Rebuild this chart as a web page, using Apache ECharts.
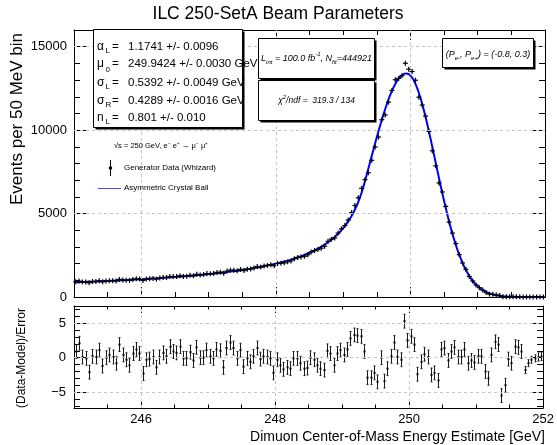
<!DOCTYPE html>
<html>
<head>
<meta charset="utf-8">
<script src="https://cdn.jsdelivr.net/npm/echarts@6/dist/echarts.min.js"></script>
<style>
  html, body { margin: 0; padding: 0; background: #fff; }
  #chart { width: 557px; height: 445px; }
</style>
</head>
<body>
<div id="chart"></div>
<script>
// binning of the histogram: 50 MeV bins from 245 to 252 GeV
const binLo = 245;
const binWidth = 0.05;

// fitted asymmetric crystal ball, read at each bin centre
const fitValues = [
  882, 890, 898, 905, 913, 921, 930, 939, 948, 956,
  965, 975, 985, 995, 1005, 1015, 1026, 1037, 1048, 1059,
  1070, 1083, 1095, 1108, 1120, 1133, 1147, 1161, 1176, 1190,
  1204, 1220, 1237, 1253, 1270, 1286, 1305, 1324, 1343, 1363,
  1382, 1405, 1427, 1450, 1474, 1497, 1524, 1550, 1578, 1606,
  1634, 1667, 1700, 1734, 1769, 1804, 1846, 1888, 1931, 1975,
  2020, 2070, 2123, 2180, 2240, 2304, 2372, 2444, 2522, 2606,
  2696, 2794, 2900, 3015, 3141, 3280, 3433, 3603, 3794, 4008,
  4255, 4533, 4859, 5244, 5703, 6265, 6957, 7702, 8457, 9203,
  9931, 10624, 11269, 11850, 12354, 12769, 13087, 13296, 13393, 13361,
  13154, 12774, 12240, 11567, 10786, 9920, 9001, 8057, 7115, 6199,
  5327, 4516, 3776, 3116, 2535, 2035, 1613, 1260, 971, 739,
  554, 410, 299, 216, 153, 107, 74, 51, 34, 22,
  15, 9, 6, 4, 2, 1, 1, 1, 0, 0
];

// generator data (events per bin)
const dataCounts = [
  909, 953, 901, 902, 850, 927, 933, 973, 911, 956,
  977, 978, 960, 1055, 1018, 1005, 991, 1056, 1087, 1079,
  995, 1073, 1088, 1111, 1073, 1136, 1171, 1168, 1231, 1221,
  1228, 1276, 1233, 1249, 1298, 1272, 1359, 1324, 1343, 1404,
  1389, 1401, 1472, 1488, 1420, 1551, 1610, 1605, 1574, 1650,
  1581, 1663, 1675, 1742, 1828, 1796, 1855, 1892, 1927, 1877,
  2007, 2020, 2045, 2115, 2164, 2299, 2367, 2404, 2442, 2530,
  2696, 2778, 2841, 2927, 3040, 3337, 3468, 3537, 3831, 4078,
  4281, 4614, 5054, 5483, 5945, 6510, 7032, 7447, 8190, 8992,
  9582, 10624, 10908, 11676, 12376, 13018, 13098, 13261, 14006, 13650,
  13510, 12989, 11975, 11503, 10838, 9930, 8764, 7859, 6836, 6293,
  5429, 4489, 3831, 3200, 2540, 2040, 1661, 1232, 959, 720,
  559, 414, 264, 172, 158, 131, 90, 12, 11, 21,
  12, 14, 10, 6, 0, 0, 1, 1, 0, 0
];

// (Data-Model)/Error per bin
const pulls = [
  0.9, 2.1, 0.1, -0.1, -2.1, 0.2, 0.1, 1.1, -1.2, 0.0,
  0.4, 0.1, -0.8, 1.9, 0.4, -0.3, -1.1, 0.6, 1.2, 0.6,
  -2.3, -0.3, -0.2, 0.1, -1.4, 0.1, 0.7, 0.2, 1.6, 0.9,
  0.7, 1.6, -0.1, -0.1, 0.8, -0.4, 1.5, 0.0, 0.0, 1.1,
  0.2, -0.1, 1.2, 1.0, -1.4, 1.4, 2.2, 1.4, -0.1, 1.1,
  -1.3, -0.1, -0.6, 0.2, 1.4, -0.2, 0.2, 0.1, -0.1, -2.2,
  -0.3, -1.1, -1.7, -1.4, -1.6, -0.1, -0.1, -0.8, -1.6, -1.5,
  0.0, -0.3, -1.1, -1.6, -1.8, 1.0, 0.6, -1.1, 0.6, 1.1,
  0.4, 1.2, 2.8, 3.3, 3.2, 3.1, 0.9, -2.9, -2.9, -2.2,
  -3.5, 0.0, -3.4, -1.6, 0.2, 2.2, 0.1, -0.3, 5.3, 2.5,
  3.1, 1.9, -2.4, -0.6, 0.5, 0.1, -2.5, -2.2, -3.3, 1.2,
  1.4, -0.4, 0.9, 1.5, 0.1, 0.1, 1.2, -0.8, -0.4, -0.7,
  0.2, 0.2, -2.0, -3.0, 0.4, 2.3, 1.9, -5.5, -4.0, -0.2,
  -0.8, 1.6, 1.5, 0.9, -1.8, -0.8, -0.3, -0.1, 0.1, 0.2
];
const pullErr = 1;
const pullErrTail = [0.5, 0.5, 0.5, 0.5, 0.6, 0.6]; // last six bins, low counts

// ticks
const xMajor = [246, 248, 250, 252];
const xMinor = [245.5, 246, 246.5, 247, 247.5, 248, 248.5, 249, 249.5, 250, 250.5, 251, 251.5];
const yTopMajor = [0, 5000, 10000, 15000];
const yTopMinor = [1000, 2000, 3000, 4000, 5000, 6000, 7000, 8000, 9000, 10000, 11000, 12000, 13000, 14000, 15000, 16000];
const yPullMajor = [-5, 0, 5];
const yPullMinor = [-7, -6, -5, -4, -3, -2, -1, 0, 1, 2, 3, 4, 5, 6, 7];

// fit results shown in the parameter box
const paramSymbols = ['α', 'μ', 'σ', 'σ', 'n'];
const paramSubs = ['L', '0', 'L', 'R', 'L'];
const paramValues = ['1.1741 +/- 0.0096', '249.9424 +/- 0.0030 GeV', '0.5392 +/- 0.0049 GeV', '0.4289 +/- 0.0016 GeV', '0.801 +/- 0.010'];

const FONT = '"Liberation Sans", Arial, Helvetica, sans-serif';

const centers = fitValues.map((v, i) => +(binLo + binWidth * (i + 0.5)).toFixed(3));
const fitPts = centers.map((x, i) => [x, fitValues[i]]);
const dataPts = centers.map((x, i) => [x, dataCounts[i]]);
const tailStart = pulls.length - pullErrTail.length;
const pullPts = centers.map((x, i) => [x, pulls[i], i >= tailStart ? pullErrTail[i - tailStart] : pullErr]);

function mkAxis (gridIndex, position, min, max, ticks, tickLen, line, label) {
  return {
    type: 'value',
    gridIndex: gridIndex,
    position: position,
    min: min,
    max: max,
    axisLine: { show: line, onZero: false, lineStyle: { color: '#000', width: 1 } },
    axisTick: { show: true, inside: true, length: tickLen, customValues: ticks, lineStyle: { color: '#000', width: 1 } },
    axisLabel: label || { show: false },
    splitLine: { show: false },
    minorTick: { show: false },
    axisPointer: { show: false }
  };
}

function lbl (vals, margin, fmt) {
  return {
    show: true,
    customValues: vals,
    margin: margin,
    fontFamily: FONT,
    fontSize: 13,
    color: '#000',
    formatter: fmt || (v => String(v))
  };
}

const minusFmt = v => (v < 0 ? '\u2212' + Math.abs(v) : String(v));

const gridLine = {
  silent: true,
  symbol: ['none', 'none'],
  label: { show: false },
  animation: false,
  lineStyle: { color: '#c4c4c4', type: [3, 3], width: 1 }
};

function plusItem (params, api) {
  const p = api.coord([api.value(0), api.value(1)]);
  const s = 2.5;
  const st = { stroke: '#000', lineWidth: 1.2 };
  return {
    type: 'group',
    children: [
      { type: 'line', shape: { x1: p[0] - s, y1: p[1], x2: p[0] + s, y2: p[1] }, style: st },
      { type: 'line', shape: { x1: p[0], y1: p[1] - s, x2: p[0], y2: p[1] + s }, style: st }
    ]
  };
}

function pullItem (params, api) {
  const x = api.value(0);
  const y = api.value(1);
  const e = api.value(2);
  const mid = api.coord([x, y]);
  const top = api.coord([x, y + e]);
  const bot = api.coord([x, y - e]);
  const px = Math.round(mid[0]) + 0.5;
  const st = { stroke: '#1a1a1a', lineWidth: 1 };
  return {
    type: 'group',
    children: [
      { type: 'line', shape: { x1: px, y1: top[1], x2: px, y2: bot[1] }, style: st },
      { type: 'line', shape: { x1: px - 1, y1: top[1], x2: px + 1, y2: top[1] }, style: st },
      { type: 'line', shape: { x1: px - 1, y1: bot[1], x2: px + 1, y2: bot[1] }, style: st },
      { type: 'rect', shape: { x: px - 1, y: mid[1] - 1, width: 2, height: 2 }, style: { fill: '#000' } }
    ]
  };
}

// white pave with ROOT-like shadow
function pave (x, y, w, h) {
  return [
    { type: 'rect', z: 100, shape: { x: x + 2, y: y + 2, width: w, height: h }, style: { fill: '#000' } },
    { type: 'rect', z: 101, shape: { x: x, y: y, width: w, height: h }, style: { fill: '#fff', stroke: '#000', lineWidth: 1 } }
  ];
}

function txt (x, y, text, font, align, extra) {
  return Object.assign({
    type: 'text',
    z: 102,
    x: x,
    y: y,
    style: {
      text: text,
      font: font,
      fill: '#000',
      align: align || 'left',
      textAlign: align || 'left',
      verticalAlign: 'middle',
      textVerticalAlign: 'middle'
    }
  }, extra || {});
}

function richTxt (x, y, text, size) {
  return {
    type: 'text',
    z: 102,
    x: x,
    y: y,
    style: {
      text: text,
      align: 'center',
      textAlign: 'center',
      verticalAlign: 'middle',
      textVerticalAlign: 'middle',
      rich: {
        i: { fontSize: size, fontStyle: 'italic', fontFamily: FONT, lineHeight: 14, fill: '#000' },
        s: { fontSize: 6, fontStyle: 'italic', fontFamily: FONT, lineHeight: 6, verticalAlign: 'bottom', fill: '#000' },
        p: { fontSize: 6, fontStyle: 'italic', fontFamily: FONT, lineHeight: 6, verticalAlign: 'top', fill: '#000' }
      }
    }
  };
}

const graphics = [];
graphics.push(txt(278, 14, 'ILC 250-SetA Beam Parameters', '17.5px ' + FONT, 'center'));
graphics.push(txt(17, 33, 'Events per 50 MeV bin', '17px ' + FONT, 'right', { rotation: Math.PI / 2 }));
graphics.push(txt(22, 358, '(Data-Model)/Error', '12px ' + FONT, 'center', { rotation: Math.PI / 2 }));
graphics.push(txt(545, 437, 'Dimuon Center-of-Mass Energy Estimate [GeV]', '14px ' + FONT, 'right'));

// parameter box
graphics.push(...pave(93.5, 29.5, 149, 98));
const rowY = [47, 64, 83, 101, 118];
paramSymbols.forEach((s, i) => {
  graphics.push(txt(97, rowY[i], s, '12px ' + FONT));
  graphics.push(txt(105.5, rowY[i] + (paramSubs[i] === '0' ? 6 : 4), paramSubs[i], '8px ' + FONT));
  graphics.push(txt(112, rowY[i], '=', '11.5px ' + FONT));
  graphics.push(txt(128, rowY[i], paramValues[i], '11.5px ' + FONT));
});

// luminosity / chi2 / polarisation boxes
graphics.push(...pave(258.5, 38.5, 116, 40));
graphics.push(richTxt(316.5, 58, '{i|L}{s|int}{i| = 100.0 fb}{p|-1}{i|, N}{s|fit}{i|=444921}', 9));
graphics.push(...pave(258.5, 80.5, 116, 40));
graphics.push(richTxt(316.5, 101, '{i|\u03c7}{p|2}{i|/ndf =  319.3 / 134}', 8.5));
graphics.push(...pave(442.5, 38.5, 91, 29));
graphics.push(richTxt(488, 54, '{i|(P}{s|e-}{i|, P}{s|e+}{i|) = (-0.8, 0.3)}', 9));

// legend
graphics.push(txt(114, 146, '\u221as = 250 GeV, e\u207b e\u207a \u2192 \u03bc\u207b \u03bc\u207a', '7.5px ' + FONT));
graphics.push({ type: 'line', z: 102, shape: { x1: 110.5, y1: 160, x2: 110.5, y2: 176 }, style: { stroke: '#000', lineWidth: 1 } });
graphics.push({ type: 'circle', z: 102, shape: { cx: 110.5, cy: 168, r: 1.8 }, style: { fill: '#000' } });
graphics.push(txt(124, 168, 'Generator Data (Whizard)', '8px ' + FONT));
graphics.push({ type: 'line', z: 102, shape: { x1: 98, y1: 188.5, x2: 121, y2: 188.5 }, style: { stroke: '#4a4aff', lineWidth: 1 } });
graphics.push(txt(124, 188, 'Asymmetric Crystal Ball', '8px ' + FONT));

const chart = echarts.init(document.getElementById('chart'), null, { renderer: 'canvas' });

chart.setOption({
  animation: false,
  backgroundColor: '#fff',
  textStyle: { fontFamily: FONT },
  grid: [
    { left: 74, top: 30, width: 471, height: 267 },
    { left: 74, top: 306, width: 471, height: 102 }
  ],
  xAxis: [
    mkAxis(0, 'bottom', 245, 252, xMajor, 10, true),
    mkAxis(0, 'bottom', 245, 252, xMinor, 5, false),
    mkAxis(0, 'top', 245, 252, xMajor, 10, true),
    mkAxis(0, 'top', 245, 252, xMinor, 5, false),
    mkAxis(1, 'bottom', 245, 252, xMajor, 7, true, lbl(xMajor, 5)),
    mkAxis(1, 'bottom', 245, 252, xMinor, 3.5, false),
    mkAxis(1, 'top', 245, 252, xMajor, 7, true),
    mkAxis(1, 'top', 245, 252, xMinor, 3.5, false)
  ],
  yAxis: [
    mkAxis(0, 'left', 0, 16000, yTopMajor, 12, true, lbl(yTopMajor, 7)),
    mkAxis(0, 'left', 0, 16000, yTopMinor, 6, false),
    mkAxis(0, 'right', 0, 16000, yTopMajor, 12, true),
    mkAxis(0, 'right', 0, 16000, yTopMinor, 6, false),
    mkAxis(1, 'left', -7.3, 7.5, yPullMajor, 12, true, lbl(yPullMajor, 8, minusFmt)),
    mkAxis(1, 'left', -7.3, 7.5, yPullMinor, 6, false),
    mkAxis(1, 'right', -7.3, 7.5, yPullMajor, 12, true),
    mkAxis(1, 'right', -7.3, 7.5, yPullMinor, 6, false)
  ],
  series: [
    {
      name: 'Asymmetric Crystal Ball',
      type: 'line',
      xAxisIndex: 0,
      yAxisIndex: 0,
      data: fitPts,
      symbol: 'none',
      showSymbol: false,
      smooth: 0.3,
      lineStyle: { color: '#0000ff', width: 2 },
      z: 2,
      markLine: Object.assign({}, gridLine, {
        data: [{ yAxis: 5000 }, { yAxis: 10000 }, { yAxis: 15000 }, { xAxis: 246 }, { xAxis: 248 }, { xAxis: 250 }]
      })
    },
    {
      name: 'Generator Data (Whizard)',
      type: 'custom',
      xAxisIndex: 0,
      yAxisIndex: 0,
      data: dataPts,
      encode: { x: 0, y: 1 },
      renderItem: plusItem,
      z: 3
    },
    {
      name: 'pull',
      type: 'custom',
      xAxisIndex: 4,
      yAxisIndex: 4,
      data: pullPts,
      encode: { x: 0, y: 1 },
      renderItem: pullItem,
      z: 3,
      markLine: Object.assign({}, gridLine, {
        data: [{ yAxis: 5 }, { yAxis: 0 }, { yAxis: -5 }, { xAxis: 246 }, { xAxis: 248 }, { xAxis: 250 }]
      })
    }
  ],
  graphic: { elements: graphics }
});

window.addEventListener('resize', function () {
  chart.resize();
});
</script>
</body>
</html>
